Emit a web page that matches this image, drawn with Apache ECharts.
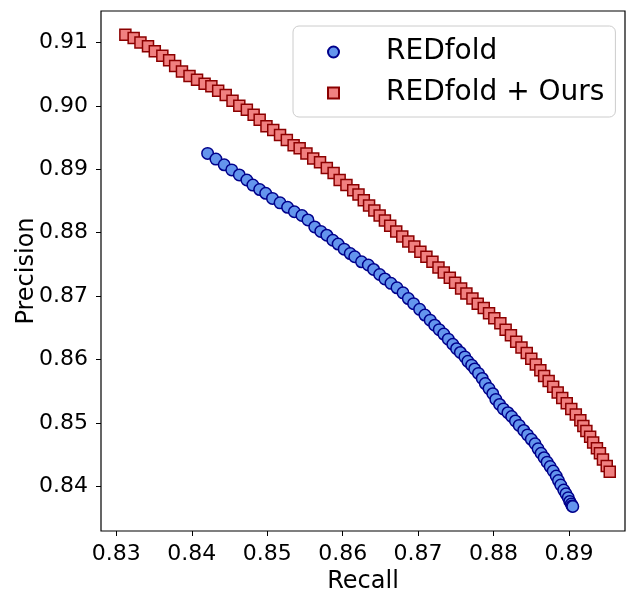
<!DOCTYPE html>
<html>
<head>
<meta charset="utf-8">
<script src="https://cdn.jsdelivr.net/npm/echarts@6/dist/echarts.min.js"></script>
<style>
  html, body { margin: 0; padding: 0; background: #fff; }
  #chart { width: 626px; height: 592px; }
</style>
</head>
<body>
<div id="chart"></div>
<script>
// REDfold (blue circles)
const blueRecall = [0.8421,0.8432,0.8443,0.8453,0.8463,0.8473,0.8481,0.8490,0.8498,0.8507,0.8517,0.8527,0.8536,0.8546,0.8554,0.8563,0.8571,0.8579,0.8587,0.8594,0.8602,0.8610,0.8616,0.8625,0.8634,0.8641,0.8649,0.8656,0.8664,0.8672,0.8680,0.8687,0.8694,0.8702,0.8709,0.8716,0.8722,0.8728,0.8734,0.8740,0.8746,0.8751,0.8756,0.8762,0.8766,0.8771,0.8775,0.8780,0.8785,0.8789,0.8794,0.8799,0.8803,0.8808,0.8813,0.8819,0.8824,0.8829,0.8834,0.8840,0.8845,0.8850,0.8855,0.8859,0.8863,0.8867,0.8871,0.8875,0.8879,0.8883,0.8886,0.8889,0.8893,0.8896,0.8899,0.8901,0.8903,0.8904,0.8905];
const bluePrecision = [0.8925,0.8916,0.8907,0.8899,0.8891,0.8883,0.8875,0.8868,0.8862,0.8854,0.8847,0.8840,0.8833,0.8827,0.8820,0.8809,0.8802,0.8796,0.8788,0.8782,0.8774,0.8767,0.8762,0.8754,0.8749,0.8742,0.8734,0.8727,0.8720,0.8713,0.8705,0.8696,0.8688,0.8679,0.8670,0.8662,0.8654,0.8647,0.8640,0.8632,0.8624,0.8617,0.8611,0.8604,0.8597,0.8591,0.8585,0.8578,0.8570,0.8562,0.8554,0.8546,0.8537,0.8529,0.8522,0.8516,0.8510,0.8503,0.8496,0.8488,0.8481,0.8474,0.8467,0.8459,0.8452,0.8445,0.8438,0.8431,0.8424,0.8416,0.8409,0.8402,0.8394,0.8388,0.8382,0.8376,0.8372,0.8369,0.8368];

// REDfold + Ours (red squares)
const redRecall = [0.8312,0.8323,0.8332,0.8342,0.8351,0.8361,0.8370,0.8378,0.8387,0.8397,0.8407,0.8417,0.8426,0.8435,0.8445,0.8454,0.8463,0.8473,0.8482,0.8490,0.8499,0.8508,0.8517,0.8526,0.8535,0.8543,0.8552,0.8561,0.8570,0.8579,0.8588,0.8596,0.8605,0.8614,0.8621,0.8628,0.8635,0.8642,0.8649,0.8656,0.8663,0.8671,0.8679,0.8687,0.8695,0.8703,0.8711,0.8719,0.8727,0.8734,0.8742,0.8749,0.8757,0.8764,0.8772,0.8779,0.8787,0.8794,0.8801,0.8809,0.8816,0.8823,0.8830,0.8837,0.8844,0.8850,0.8856,0.8862,0.8867,0.8873,0.8879,0.8885,0.8891,0.8897,0.8903,0.8909,0.8915,0.8919,0.8923,0.8928,0.8932,0.8937,0.8941,0.8945,0.8950,0.8954];
const redPrecision = [0.9112,0.9107,0.9100,0.9094,0.9086,0.9079,0.9072,0.9063,0.9054,0.9047,0.9041,0.9035,0.9031,0.9024,0.9017,0.9008,0.9000,0.8994,0.8986,0.8978,0.8968,0.8962,0.8954,0.8946,0.8938,0.8933,0.8925,0.8917,0.8911,0.8902,0.8894,0.8883,0.8875,0.8867,0.8860,0.8851,0.8843,0.8835,0.8827,0.8819,0.8811,0.8802,0.8794,0.8786,0.8778,0.8770,0.8762,0.8754,0.8745,0.8737,0.8729,0.8721,0.8712,0.8704,0.8696,0.8688,0.8681,0.8673,0.8665,0.8657,0.8647,0.8638,0.8628,0.8619,0.8610,0.8601,0.8592,0.8583,0.8574,0.8566,0.8557,0.8548,0.8539,0.8531,0.8522,0.8513,0.8504,0.8495,0.8487,0.8478,0.8469,0.8460,0.8452,0.8442,0.8432,0.8423];

const xTicks = [0.83, 0.84, 0.85, 0.86, 0.87, 0.88, 0.89];
const yTicks = [0.84, 0.85, 0.86, 0.87, 0.88, 0.89, 0.90, 0.91];

const FONT = "DejaVu Sans";
const pairs = (xs, ys) => xs.map((x, i) => [x, ys[i]]);

const chart = echarts.init(document.getElementById("chart"), null, { renderer: "canvas" });
chart.setOption({
  animation: false,
  textStyle: { fontFamily: FONT, color: "#000" },
  grid: {
    left: 101, right: 1, top: 11, bottom: 61,
    containLabel: false, outerBoundsMode: "none",
    show: true, borderColor: "#000", borderWidth: 1.2, backgroundColor: "#fff"
  },
  legend: {
    left: 293, top: 26,
    orient: "vertical",
    padding: [9, 11, 7, 34],
    itemGap: 7,
    itemWidth: 11, itemHeight: 11,
    backgroundColor: "rgba(255,255,255,0.8)",
    borderColor: "#cccccc", borderWidth: 1, borderRadius: 6,
    textStyle: { fontFamily: FONT, fontSize: 28, color: "#000", lineHeight: 34, padding: [0, 0, 0, 42] },
    data: [
      { name: "REDfold", icon: "circle" },
      { name: "REDfold + Ours", icon: "rect" }
    ]
  },
  xAxis: {
    type: "value",
    min: 0.82797, max: 0.89742,
    name: "Recall", nameLocation: "middle", nameGap: 36,
    nameTextStyle: { fontFamily: FONT, fontSize: 24, color: "#000" },
    axisLine: { show: false },
    axisTick: { show: true, inside: false, length: 5, lineStyle: { color: "#000", width: 1 }, customValues: xTicks },
    axisLabel: {
      fontFamily: FONT, fontSize: 22, color: "#000", margin: 12,
      customValues: xTicks, formatter: v => v.toFixed(2)
    },
    splitLine: { show: false }
  },
  yAxis: {
    type: "value",
    min: 0.83294, max: 0.91496,
    name: "Precision", nameLocation: "middle", nameGap: 62, nameRotate: 90,
    nameMoveOverlap: false,
    nameTextStyle: { fontFamily: FONT, fontSize: 24, color: "#000" },
    axisLine: { show: false },
    axisTick: { show: true, inside: false, length: 5, lineStyle: { color: "#000", width: 1 }, customValues: yTicks },
    axisLabel: {
      fontFamily: FONT, fontSize: 22, color: "#000", margin: 13,
      customValues: yTicks, formatter: v => v.toFixed(2)
    },
    splitLine: { show: false }
  },
  series: [
    {
      name: "REDfold",
      type: "scatter",
      symbol: "circle",
      symbolSize: 11.5,
      itemStyle: { color: "#6495ED", borderColor: "#00008B", borderWidth: 1.5, opacity: 1 },
      data: pairs(blueRecall, bluePrecision)
    },
    {
      name: "REDfold + Ours",
      type: "scatter",
      symbol: "rect",
      symbolSize: 11,
      itemStyle: { color: "#F08080", borderColor: "#8B0000", borderWidth: 1.5, opacity: 1 },
      data: pairs(redRecall, redPrecision)
    }
  ]
});
</script>
</body>
</html>
